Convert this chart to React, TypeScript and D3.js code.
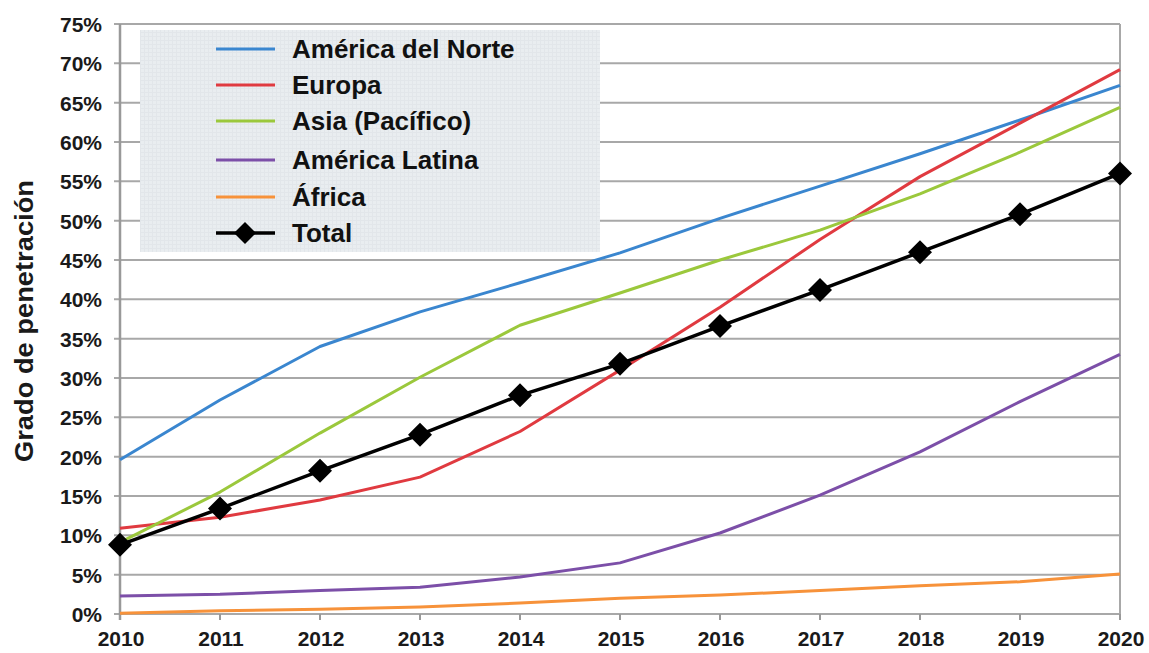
import React from "react";
import * as d3 from "d3";

const years = [2010, 2011, 2012, 2013, 2014, 2015, 2016, 2017, 2018, 2019, 2020];
const yTicks = [0, 5, 10, 15, 20, 25, 30, 35, 40, 45, 50, 55, 60, 65, 70, 75];

const norteamerica = [19.6, 27.2, 34.0, 38.4, 42.1, 45.9, 50.3, 54.4, 58.5, 62.8, 67.2];
const europa = [10.9, 12.3, 14.5, 17.4, 23.2, 31.0, 39.0, 47.6, 55.6, 62.4, 69.2];
const asia = [9.1, 15.5, 23.0, 30.1, 36.7, 40.8, 45.0, 48.8, 53.4, 58.7, 64.4];
const latina = [2.3, 2.5, 3.0, 3.4, 4.7, 6.5, 10.3, 15.1, 20.6, 27.0, 33.0];
const africa = [0.1, 0.4, 0.6, 0.9, 1.4, 2.0, 2.4, 3.0, 3.6, 4.1, 5.1];
const total = [8.8, 13.4, 18.2, 22.8, 27.8, 31.8, 36.6, 41.2, 46.0, 50.8, 56.0];

const seriesNames = ["América del Norte", "Europa", "Asia (Pacífico)", "América Latina", "África", "Total"];
const seriesColors = ["#3a86cf", "#e03a40", "#9bc83c", "#7c4fa8", "#f7923a", "#000000"];

export default function App() {
  const W = 1149, H = 653;
  const left = 120, right = 1120, top = 24, bottom = 614;
  const x = d3.scaleLinear().domain([2010, 2020]).range([left, right]);
  const y = d3.scaleLinear().domain([0, 75]).range([bottom, top]);
  const font = "'Liberation Sans', Arial, sans-serif";

  const colored = [norteamerica, europa, asia, latina, africa];
  const line = d3.line<number>().x((_, i) => x(years[i])).y((d) => y(d)).curve(d3.curveLinear);

  const diamond = (cx: number, cy: number, r: number) =>
    `M${cx},${cy - r}L${cx + r},${cy}L${cx},${cy + r}L${cx - r},${cy}Z`;

  const legendRows = [49, 85, 121, 160, 197, 233];

  return (
    <svg width={W} height={H} style={{ position: "absolute", left: 0, top: 0, background: "#fff" }}>
      <defs>
        <pattern id="lg" width="4" height="4" patternUnits="userSpaceOnUse">
          <rect width="4" height="4" fill="#e9edf0" />
          <path d="M0,0.5H4M0.5,0V4" stroke="#e2e6ea" strokeWidth="1" />
        </pattern>
      </defs>
      {yTicks.map((t) => (
        <g key={t}>
          <line x1={left - 6} x2={right} y1={y(t)} y2={y(t)} stroke="#a8a8a8" strokeWidth={2} />
          <text x={102} y={y(t) + 8} textAnchor="end" fontFamily={font} fontWeight="bold" fontSize={21} fill="#1a1a1a">
            {t}%
          </text>
        </g>
      ))}
      <line x1={left} x2={left} y1={top} y2={bottom + 6} stroke="#999" strokeWidth={2.5} />
      <line x1={right} x2={right} y1={top} y2={bottom + 6} stroke="#a8a8a8" strokeWidth={2} />
      {years.map((yr) => (
        <g key={yr}>
          <line x1={x(yr)} x2={x(yr)} y1={bottom} y2={bottom + 6} stroke="#999" strokeWidth={2} />
          <text x={x(yr) + 1} y={646} textAnchor="middle" fontFamily={font} fontWeight="bold" fontSize={21} fill="#1a1a1a">
            {yr}
          </text>
        </g>
      ))}
      <text
        transform={`translate(33,321) rotate(-90)`}
        textAnchor="middle"
        fontFamily={font}
        fontWeight="bold"
        fontSize={26}
        textLength={282}
        lengthAdjust="spacingAndGlyphs"
        fill="#1a1a1a"
      >
        Grado de penetración
      </text>
      <rect x={140} y={30} width={460} height={222} fill="url(#lg)" />
      {seriesNames.map((n, i) => (
        <g key={n}>
          <line x1={216} x2={275} y1={legendRows[i]} y2={legendRows[i]} stroke={seriesColors[i]} strokeWidth={i === 5 ? 3.5 : 3} />
          {i === 5 && <path d={diamond(245, legendRows[i], 11)} fill="#000" />}
          <text x={292} y={legendRows[i] + 9} fontFamily={font} fontWeight="bold" fontSize={26} fill="#111">
            {n}
          </text>
        </g>
      ))}
      {colored.map((s, i) => (
        <path key={i} d={line(s) || ""} fill="none" stroke={seriesColors[i]} strokeWidth={3} strokeLinejoin="round" />
      ))}
      <path d={line(total) || ""} fill="none" stroke="#000" strokeWidth={3.5} />
      {total.map((v, i) => (
        <path key={i} d={diamond(x(years[i]), y(v), 12)} fill="#000" />
      ))}
    </svg>
  );
}
